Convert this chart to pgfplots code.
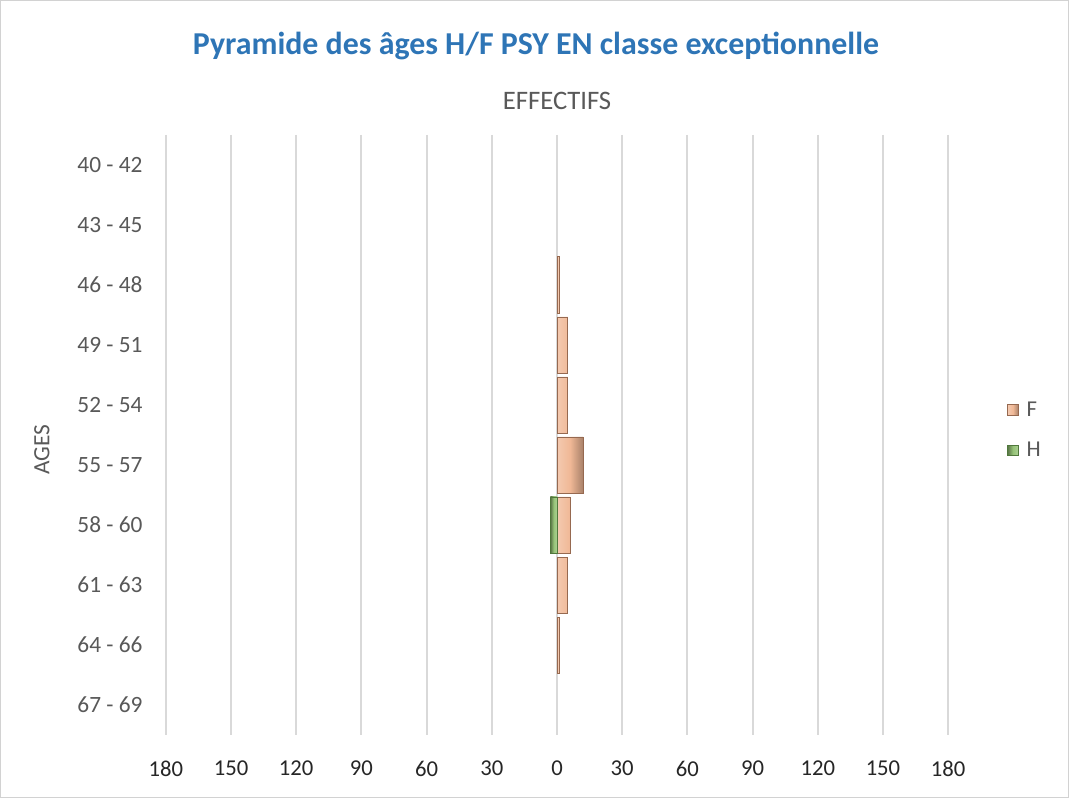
\documentclass[border=0pt]{standalone}
\usepackage{pgfplots}
\pgfplotsset{compat=1.18}
\usepackage{fontspec}
\setmainfont{Carlito}
\definecolor{titleblue}{RGB}{46,117,182}
\definecolor{txtgrey}{RGB}{89,89,89}
\definecolor{gridgrey}{RGB}{217,217,217}
\definecolor{fcol}{RGB}{240,184,150}
\definecolor{fdraw}{RGB}{150,105,80}
\definecolor{hcol}{RGB}{150,195,120}
\definecolor{hdraw}{RGB}{80,120,60}
\begin{document}
\begin{tikzpicture}
\path[draw=gray!35,fill=white] (0.375pt,0.375pt) rectangle (801.375pt,598.125pt);
\node[font=\fontsize{23.9}{28}\selectfont\bfseries,text=titleblue] at (402pt,564pt) {Pyramide des âges H/F PSY EN classe exceptionnelle};
\node[font=\fontsize{20}{24}\selectfont,text=txtgrey] at (417.75pt,522.75pt) {EFFECTIFS};
\node[font=\fontsize{17.5}{20}\selectfont,text=txtgrey,rotate=90] at (31.5pt,261pt) {AGES};
\begin{axis}[
  at={(124.5pt,47.25pt)}, anchor=south west,
  scale only axis, width=586.5pt, height=450pt,
  xmin=-180, xmax=180,
  ymin=-0.5, ymax=9.5, y dir=reverse,
  axis line style={draw=none},
  major tick length=0pt,
  xtick={-180,-150,...,180},
  xticklabels={180,150,120,90,60,30,0,30,60,90,120,150,180},
  ytick={0,...,9},
  yticklabels={40 - 42,43 - 45,46 - 48,49 - 51,52 - 54,55 - 57,58 - 60,61 - 63,64 - 66,67 - 69},
  xmajorgrids, ymajorgrids=false,
  grid style={gridgrey, line width=1.5pt},
  xticklabel style={font=\fontsize{17}{20}\selectfont, text=black!85, yshift=-16pt},
  yticklabel style={font=\fontsize{17.5}{20}\selectfont, text=txtgrey, xshift=-14pt},
  xbar, bar width=42pt, bar shift=0pt,
  legend style={at={(1.07,0.508)}, anchor=west, draw=none, fill=none,
    font=\fontsize{17}{20}\selectfont, text=txtgrey, row sep=14pt,
    legend cell align=left},
  legend image code/.code={\fill[#1] (0pt,-4pt) rectangle (8pt,4pt);},
]
\addplot[left color=fcol!75!white, right color=fcol!70!black, middle color=fcol, draw=fdraw, line width=0.6pt] coordinates {
 (1,2) (5,3) (5,4) (12,5) (6,6) (5,7) (1,8)};
\addlegendentry{\hspace{4pt}F}
\addplot[left color=hcol!60!black, right color=hcol!80!white, middle color=hcol, draw=hdraw, line width=0.6pt] coordinates {
 (-3,6)};
\addlegendentry{\hspace{4pt}H}
\end{axis}
\end{tikzpicture}
\end{document}
